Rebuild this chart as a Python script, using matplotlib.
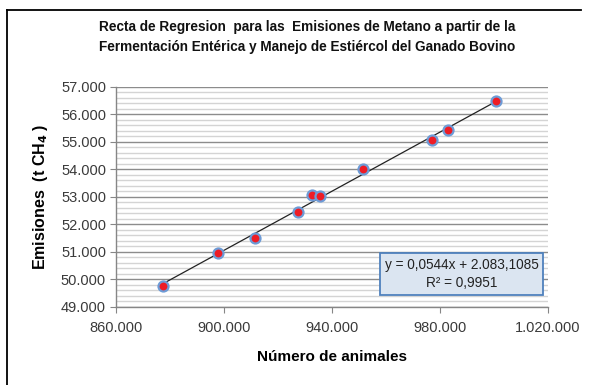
import matplotlib
matplotlib.use("Agg")
import matplotlib.pyplot as plt
import numpy as np
from matplotlib.lines import Line2D
from matplotlib.ticker import FixedLocator, MultipleLocator

plt.rcParams['font.family'] = ['Liberation Sans', 'DejaVu Sans']

# Data
animales = [877400, 897900, 911700, 927400, 932800, 935500, 951600, 977100, 983000, 1000900]
emisiones = [49772, 50979, 51496, 52435, 53075, 53039, 54026, 55063, 55410, 56472]

x_ticks = [860000, 900000, 940000, 980000, 1020000]
x_tick_labels = ["860.000", "900.000", "940.000", "980.000", "1.020.000"]
y_ticks = [49000, 50000, 51000, 52000, 53000, 54000, 55000, 56000, 57000]
y_tick_labels = ["49.000", "50.000", "51.000", "52.000", "53.000", "54.000", "55.000", "56.000", "57.000"]

title = ("Recta de Regresion  para las  Emisiones de Metano a partir de la\n"
         "Fermentación Entérica y Manejo de Estiércol del Ganado Bovino")
eq_text = "y = 0,0544x + 2.083,1085\nR² = 0,9951"

W, H = 591, 385
fig = plt.figure(figsize=(W / 100, H / 100), dpi=100)
ax = fig.add_axes([115.7 / W, 1 - 307 / H, (548 - 115.7) / W, (307 - 86.7) / H])

ax.set_xlim(x_ticks[0], x_ticks[-1])
ax.set_ylim(y_ticks[0], y_ticks[-1])

ax.yaxis.set_major_locator(FixedLocator(y_ticks))
ax.yaxis.set_minor_locator(MultipleLocator(200))
ax.xaxis.set_major_locator(FixedLocator(x_ticks))
ax.set_yticklabels(y_tick_labels)
ax.set_xticklabels(x_tick_labels)

ax.grid(True, which='major', axis='y', color='#8c8c8c', linewidth=1.0, zorder=0)
ax.grid(True, which='minor', axis='y', color='#d4d4d4', linewidth=1.0, zorder=0)
ax.set_axisbelow(True)

for s in ['top', 'right']:
    ax.spines[s].set_visible(False)
for s in ['left', 'bottom']:
    ax.spines[s].set_color('#868686')
    ax.spines[s].set_linewidth(1.0)

ax.tick_params(axis='both', which='major', direction='out', length=4, color='#868686',
               labelsize=10.5, labelcolor='#3a3a3a')
ax.tick_params(axis='x', which='major', pad=6)
ax.tick_params(axis='y', which='major', pad=3)
ax.tick_params(axis='y', which='minor', length=0)

# Trendline
coef = np.polyfit(animales, emisiones, 1)
xs = np.array([min(animales), max(animales)])
ax.plot(xs, np.polyval(coef, xs), color='#222222', linewidth=0.9, zorder=3)

ax.scatter(animales, emisiones, s=52, facecolor='#ee1c25', edgecolor='#6d9bd6',
           linewidth=1.6, zorder=4)

ax.text(0.80, 0.15, eq_text, transform=ax.transAxes, ha='center', va='center',
        fontsize=9.8, color='#222222', linespacing=1.35,
        bbox=dict(boxstyle='square,pad=0.35', facecolor='#dbe5f1', edgecolor='#4f81bd',
                  linewidth=1.3), zorder=5)

ax.set_xlabel("Número de animales", fontsize=11, fontweight='bold', labelpad=11)
ax.set_ylabel("Emisiones  (t CH$_\\mathbf{4}$ )", fontsize=11.5, fontweight='bold', labelpad=8)

fig.text(0.519, 1 - 37 / H, title, ha='center', va='center', fontsize=9.8,
         fontweight='bold', linespacing=1.5, color='#111111')

# Chart border (visible top and left edges)
fig.add_artist(Line2D([7 / W, 581 / W], [1 - 9.5 / H, 1 - 9.5 / H], color='black',
                      linewidth=1.3, transform=fig.transFigure))
fig.add_artist(Line2D([7 / W, 7 / W], [0, 1 - 9.5 / H], color='black',
                      linewidth=1.3, transform=fig.transFigure))

fig.savefig("out.png", dpi=100, facecolor='white')
